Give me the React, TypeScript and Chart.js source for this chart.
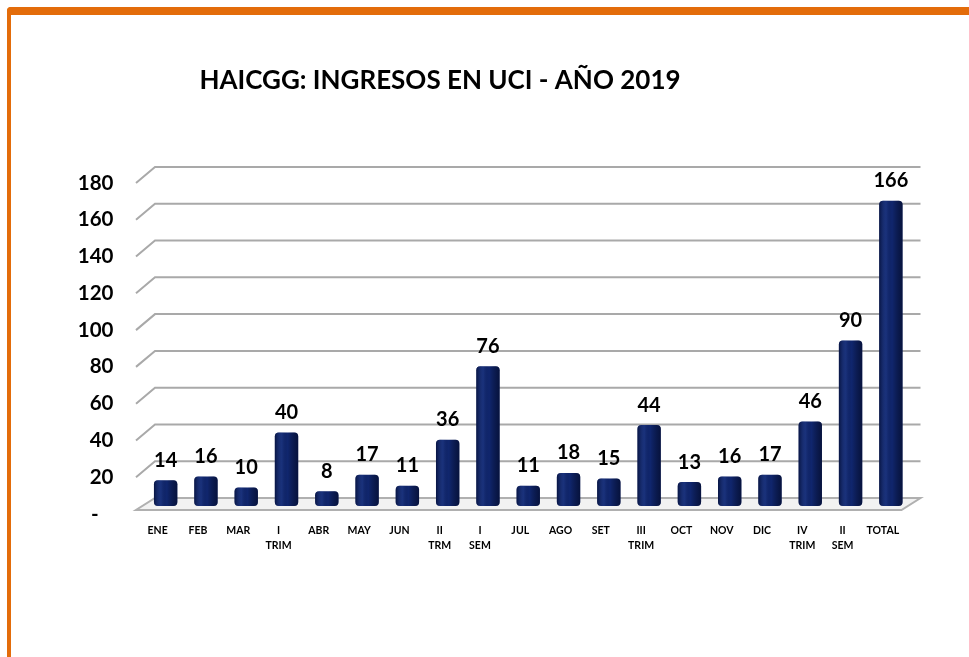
import React, { useEffect, useRef } from "react";
import { Chart, registerables } from "chart.js";

Chart.register(...registerables);

const categories: (string | string[])[] = [
  "ENE", "FEB", "MAR", ["I", "TRIM"], "ABR", "MAY", "JUN", ["II", "TRM"], ["I", "SEM"],
  "JUL", "AGO", "SET", ["III", "TRIM"], "OCT", "NOV", "DIC", ["IV", "TRIM"], ["II", "SEM"], "TOTAL",
];
const ingresos = [14, 16, 10, 40, 8, 17, 11, 36, 76, 11, 18, 15, 44, 13, 16, 17, 46, 90, 166];
const yTicks = [0, 20, 40, 60, 80, 100, 120, 140, 160, 180];
const titleText = "HAICGG: INGRESOS EN UCI - AÑO 2019";

const FONT = "Lato, 'Open Sans', sans-serif";
const DX = 9.5;
const DY = 8;

const perspectivePlugin = {
  id: "perspective",
  beforeDatasetsDraw(chart: any) {
    const { ctx, chartArea, scales } = chart;
    const y = scales.y;
    const left = chartArea.left;
    const right = chartArea.right;
    const y0 = y.getPixelForValue(0);
    ctx.save();
    // floor slab
    ctx.beginPath();
    ctx.moveTo(left - DX, y0 + 4);
    ctx.lineTo(right - DX, y0 + 4);
    ctx.lineTo(right + DX, y0 - DY);
    ctx.lineTo(left + DX, y0 - DY);
    ctx.closePath();
    ctx.fillStyle = "#f2f2f2";
    ctx.fill();
    ctx.strokeStyle = "#b0b0b0";
    ctx.lineWidth = 2;
    ctx.stroke();
    // gridlines
    ctx.strokeStyle = "#a9a9a9";
    ctx.lineWidth = 2;
    for (const v of yTicks) {
      if (v === 0) continue;
      const py = y.getPixelForValue(v);
      ctx.beginPath();
      ctx.moveTo(left - DX, py + DY);
      ctx.lineTo(left + DX, py - DY);
      ctx.lineTo(right + DX, py - DY);
      ctx.stroke();
    }
    ctx.restore();
  },
  afterDatasetsDraw(chart: any) {
    const { ctx } = chart;
    const meta = chart.getDatasetMeta(0);
    ctx.save();
    meta.data.forEach((bar: any, i: number) => {
      const w = bar.width;
      const x0 = bar.x - w / 2;
      const g = ctx.createLinearGradient(x0, 0, x0 + w, 0);
      g.addColorStop(0, "rgba(0,5,30,0.55)");
      g.addColorStop(0.3, "rgba(60,90,170,0.22)");
      g.addColorStop(0.55, "rgba(0,0,0,0)");
      g.addColorStop(1, "rgba(0,5,30,0.6)");
      ctx.fillStyle = g;
      const r = 4;
      const top = bar.y;
      const bottom = bar.base;
      ctx.beginPath();
      ctx.moveTo(x0, top + r);
      ctx.quadraticCurveTo(x0, top, x0 + r, top);
      ctx.lineTo(x0 + w - r, top);
      ctx.quadraticCurveTo(x0 + w, top, x0 + w, top + r);
      ctx.lineTo(x0 + w, bottom - r);
      ctx.quadraticCurveTo(x0 + w, bottom, x0 + w - r, bottom);
      ctx.lineTo(x0 + r, bottom);
      ctx.quadraticCurveTo(x0, bottom, x0, bottom - r);
      ctx.closePath();
      ctx.fill();
      // value label
      ctx.fillStyle = "#000000";
      ctx.font = `bold 20px ${FONT}`;
      ctx.textAlign = "center";
      ctx.textBaseline = "bottom";
      ctx.fillText(String(ingresos[i]), bar.x, top - 10);
    });
    ctx.restore();
  },
  afterDraw(chart: any) {
    const { ctx } = chart;
    ctx.save();
    ctx.fillStyle = "#000000";
    ctx.font = `bold 26px ${FONT}`;
    ctx.textAlign = "center";
    ctx.textBaseline = "middle";
    ctx.fillText(titleText, 440, 81);
    ctx.restore();
  },
};

export default function App() {
  const canvasRef = useRef<HTMLCanvasElement | null>(null);

  useEffect(() => {
    if (!canvasRef.current) return;
    const chart = new Chart(canvasRef.current, {
      type: "bar",
      data: {
        labels: categories,
        datasets: [
          {
            label: "Ingresos",
            data: ingresos,
            backgroundColor: "#10266e",
            borderWidth: 0,
            borderRadius: 4,
            borderSkipped: false,
            barPercentage: 0.58,
            categoryPercentage: 1,
          },
        ],
      },
      options: {
        responsive: false,
        animation: false,
        devicePixelRatio: 1,
        layout: { padding: { left: 65.5, right: 58, top: 175, bottom: 101 } },
        plugins: {
          legend: { display: false },
          tooltip: { enabled: false },
          title: { display: false },
        },
        scales: {
          x: {
            grid: { display: false, drawTicks: false },
            border: { display: false },
            ticks: {
              color: "#000000",
              font: { family: FONT, size: 10.5, weight: "bold", lineHeight: 1.35 },
              padding: 18,
              labelOffset: -8,
              maxRotation: 0,
              autoSkip: false,
            },
            afterFit(scale: any) {
              scale.height = 50;
            },
          },
          y: {
            min: 0,
            max: 180,
            grid: { display: false, drawTicks: false },
            border: { display: false },
            afterBuildTicks(scale: any) {
              scale.ticks = yTicks.map((v) => ({ value: v }));
            },
            ticks: {
              color: "#000000",
              font: { family: FONT, size: 20.5, weight: "bold" },
              padding: 32,
              labelOffset: 8,
              callback: (v: any) => (Number(v) === 0 ? "-   " : String(v)),
            },
            afterFit(scale: any) {
              scale.width = 80;
            },
          },
        },
      },
      plugins: [perspectivePlugin],
    });
    return () => chart.destroy();
  }, []);

  return (
    <div style={{ position: "fixed", left: 0, top: 0, width: 969, height: 657, background: "#ffffff", overflow: "hidden" }}>
      <div
        style={{
          position: "absolute",
          left: 7,
          top: 7,
          width: 980,
          height: 700,
          borderTop: "8px solid #e36c0a",
          borderLeft: "4px solid #e36c0a",
          borderTopLeftRadius: 4,
          boxSizing: "border-box",
        }}
      />
      <canvas ref={canvasRef} width={969} height={657} style={{ position: "absolute", left: 0, top: 0 }} />
    </div>
  );
}
